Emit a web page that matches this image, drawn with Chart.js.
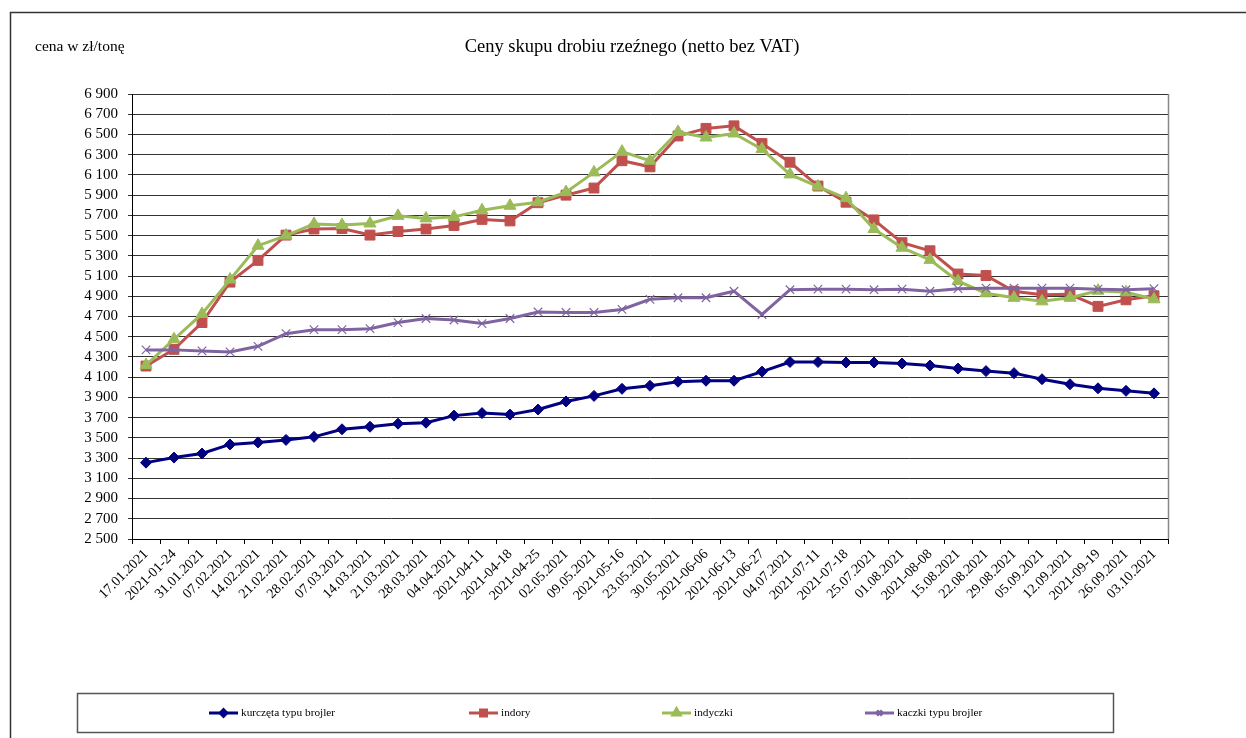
<!DOCTYPE html>
<html>
<head>
<meta charset="utf-8">
<script src="https://cdn.jsdelivr.net/npm/chart.js@4.4.1/dist/chart.umd.min.js"></script>
<style>
  html, body { margin: 0; padding: 0; background: #fff; }
  #wrap { width: 1246px; height: 738px; position: relative; }
</style>
</head>
<body>
<div id="wrap"><canvas id="c"></canvas></div>
<script>
// week labels as they appear on the axis (mixed date formats kept as in the source)
const labels = [
  '17.01.2021', '2021-01-24', '31.01.2021', '07.02.2021', '14.02.2021', '21.02.2021',
  '28.02.2021', '07.03.2021', '14.03.2021', '21.03.2021', '28.03.2021', '04.04.2021',
  '2021-04-11', '2021-04-18', '2021-04-25', '02.05.2021', '09.05.2021', '2021-05-16',
  '23.05.2021', '30.05.2021', '2021-06-06', '2021-06-13', '2021-06-27', '04.07.2021',
  '2021-07-11', '2021-07-18', '25.07.2021', '01.08.2021', '2021-08-08', '15.08.2021',
  '22.08.2021', '29.08.2021', '05.09.2021', '12.09.2021', '2021-09-19', '26.09.2021',
  '03.10.2021'
];

const kurczeta = [
  3255, 3305, 3345, 3435, 3455, 3480, 3510, 3585, 3610, 3640, 3650, 3720,
  3745, 3730, 3780, 3860, 3915, 3985, 4015, 4055, 4065, 4065, 4155, 4250,
  4250, 4245, 4245, 4235, 4215, 4185, 4160, 4140, 4080, 4030, 3990, 3965,
  3940
];

const indory = [
  4210, 4375, 4640, 5040, 5255, 5505, 5565, 5570, 5505, 5540, 5565, 5600,
  5660, 5645, 5825, 5900, 5970, 6240, 6180, 6485, 6560, 6585, 6410, 6225,
  5990, 5830, 5655, 5430, 5350, 5120, 5105, 4950, 4915, 4920, 4800, 4865,
  4905
];

const indyczki = [
  4220, 4475, 4725, 5065, 5400, 5500, 5615, 5605, 5620, 5695, 5670, 5685,
  5750, 5795, 5830, 5930, 6125, 6330, 6240, 6525, 6470, 6510, 6355, 6105,
  5985, 5870, 5565, 5380, 5260, 5050, 4930, 4885, 4850, 4885, 4955, 4940,
  4870
];

const kaczki = [
  4370, 4370, 4360, 4350, 4405, 4530, 4570, 4570, 4580, 4640, 4680, 4665,
  4630, 4680, 4745, 4740, 4740, 4770, 4870, 4885, 4885, 4950, 4720, 4965,
  4970, 4970, 4965, 4970, 4950, 4975, 4980, 4980, 4980, 4980, 4970, 4965,
  4975
];

const yMin = 2500;
const yMax = 6900;
const yStep = 200;

const seriesNames = ['kurczęta typu brojler', 'indory', 'indyczki', 'kaczki typu brojler'];

const SERIF = '"Liberation Serif", "Times New Roman", serif';

function fmt(v) {
  return String(v).replace(/\B(?=(\d{3})+(?!\d))/g, ' ');
}

// frame, title, y unit label, plot border and the boxed legend
const decor = {
  id: 'decor',
  afterDraw(chart) {
    const ctx = chart.ctx;
    const a = chart.chartArea;
    ctx.save();

    // outer frame (top + left only)
    ctx.strokeStyle = '#333';
    ctx.lineWidth = 1.5;
    ctx.beginPath();
    ctx.moveTo(10.5, 738);
    ctx.lineTo(10.5, 12.5);
    ctx.lineTo(1246, 12.5);
    ctx.stroke();

    // right border of plot
    ctx.strokeStyle = '#888';
    ctx.lineWidth = 1.5;
    ctx.beginPath();
    ctx.moveTo(Math.round(a.right) + 0.5, a.top);
    ctx.lineTo(Math.round(a.right) + 0.5, a.bottom);
    ctx.stroke();

    ctx.fillStyle = '#000';
    ctx.textBaseline = 'middle';
    ctx.font = '15.5px ' + SERIF;
    ctx.textAlign = 'left';
    ctx.fillText('cena w zł/tonę', 35, 47);

    ctx.font = '18.5px ' + SERIF;
    ctx.textAlign = 'center';
    ctx.fillText('Ceny skupu drobiu rzeźnego (netto bez VAT)', 632, 47);

    // legend box
    ctx.strokeStyle = '#555';
    ctx.lineWidth = 1.5;
    ctx.strokeRect(77.5, 693.5, 1036, 39);

    const lx = [209, 469, 662, 865];
    const ly = 713;
    chart.data.datasets.forEach((ds, i) => {
      ctx.strokeStyle = ds.borderColor;
      ctx.lineWidth = 3;
      ctx.beginPath();
      ctx.moveTo(lx[i], ly);
      ctx.lineTo(lx[i] + 29, ly);
      ctx.stroke();
      ctx.fillStyle = ds.backgroundColor;
      ctx.strokeStyle = ds.borderColor;
      Chart.helpers.drawPoint(ctx, {
        pointStyle: ds.pointStyle,
        radius: ds.pointRadius * 0.6,
        borderWidth: ds.pointBorderWidth
      }, lx[i] + 14.5, ly);
      ctx.fillStyle = '#000';
      ctx.font = '11.3px ' + SERIF;
      ctx.textAlign = 'left';
      ctx.fillText(ds.label, lx[i] + 32, ly);
    });

    ctx.restore();
  }
};

const ctx = document.getElementById('c').getContext('2d');
new Chart(ctx, {
  type: 'line',
  data: {
    labels: labels,
    datasets: [
      {
        label: seriesNames[0],
        data: kurczeta,
        borderColor: '#000080',
        backgroundColor: '#000080',
        borderWidth: 3,
        pointStyle: 'rectRot',
        pointRadius: 5.5,
        pointBorderWidth: 1,
        tension: 0,
        order: 4
      },
      {
        label: seriesNames[1],
        data: indory,
        borderColor: '#C0504D',
        backgroundColor: '#C0504D',
        borderWidth: 3,
        pointStyle: 'rect',
        pointRadius: 7,
        pointBorderWidth: 1,
        tension: 0,
        order: 3
      },
      {
        label: seriesNames[2],
        data: indyczki,
        borderColor: '#9BBB59',
        backgroundColor: '#9BBB59',
        borderWidth: 3,
        pointStyle: 'triangle',
        pointRadius: 7,
        pointBorderWidth: 1,
        tension: 0,
        order: 2
      },
      {
        label: seriesNames[3],
        data: kaczki,
        borderColor: '#8064A2',
        backgroundColor: '#8064A2',
        borderWidth: 3,
        pointStyle: 'crossRot',
        pointRadius: 6,
        pointBorderWidth: 1.2,
        tension: 0,
        order: 1
      }
    ]
  },
  options: {
    responsive: true,
    maintainAspectRatio: false,
    animation: false,
    layout: {
      padding: { top: 94, right: 78, bottom: 99, left: 0 }
    },
    scales: {
      x: {
        offset: true,
        afterFit: (scale) => { scale.height = 100; },
        grid: {
          offset: true,
          drawOnChartArea: false,
          drawTicks: true,
          tickLength: 5,
          color: '#000'
        },
        border: { color: '#000', width: 1 },
        ticks: {
          autoSkip: false,
          maxRotation: 45,
          minRotation: 45,
          padding: 2,
          color: '#000',
          font: { family: SERIF, size: 14 }
        }
      },
      y: {
        min: yMin,
        max: yMax,
        afterFit: (scale) => { scale.width = 132; },
        grid: {
          color: '#333',
          lineWidth: 1,
          tickLength: 4
        },
        border: { color: '#000', width: 1 },
        ticks: {
          autoSkip: false,
          stepSize: yStep,
          padding: 10,
          color: '#000',
          font: { family: SERIF, size: 15 },
          callback: (v) => fmt(v)
        }
      }
    },
    plugins: {
      legend: { display: false },
      title: { display: false },
      tooltip: { enabled: false }
    }
  },
  plugins: [decor]
});
</script>
</body>
</html>
